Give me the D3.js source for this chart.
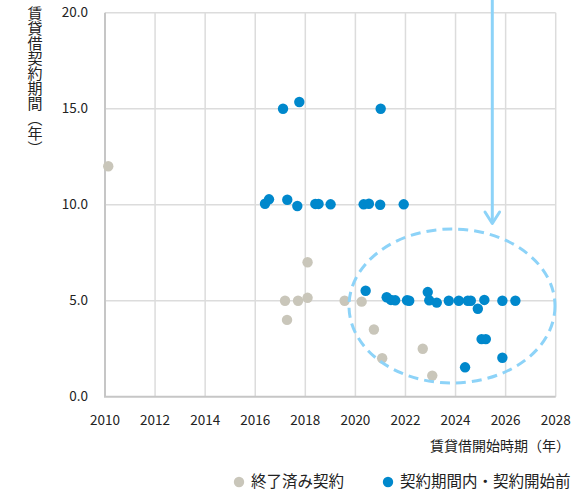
<!DOCTYPE html>
<html>
<head>
<meta charset="utf-8">
<script src="https://cdn.jsdelivr.net/npm/d3@7"></script>
<style>
  body { margin: 0; background: #fff; }
  text { font-family: "Noto Sans CJK JP", "Noto Sans", sans-serif; fill: #222; }
</style>
</head>
<body>
<svg id="chart"></svg>
<script>
// 終了済み契約 (gray)
const endedYears  = [2010.13, 2017.19, 2017.27, 2017.71, 2018.09, 2018.09, 2019.57, 2020.25, 2020.74, 2021.07, 2022.69, 2023.07];
const endedTerms  = [12.0, 5.0, 4.0, 5.0, 5.15, 7.0, 5.0, 4.95, 3.5, 2.0, 2.5, 1.1];

// 契約期間内・契約開始前 (blue)
const activeYears = [2017.11, 2017.76, 2021.01,
  2016.39, 2016.55, 2017.28, 2017.68, 2018.40, 2018.53, 2019.01, 2020.33, 2020.54, 2020.99, 2021.93,
  2020.41, 2021.25, 2021.42, 2021.59, 2022.06, 2022.15, 2022.89, 2022.95, 2023.25, 2023.73, 2024.13,
  2024.49, 2024.61, 2024.89, 2025.15, 2025.87, 2026.39,
  2025.04, 2025.21, 2025.87, 2024.38];
const activeTerms = [15.0, 15.35, 15.0,
  10.05, 10.28, 10.26, 9.93, 10.04, 10.04, 10.02, 10.02, 10.05, 10.0, 10.02,
  5.52, 5.18, 5.04, 5.02, 5.02, 5.0, 5.45, 5.02, 4.9, 5.0, 5.0,
  5.0, 5.0, 4.58, 5.04, 5.0, 5.0,
  3.0, 3.0, 2.03, 1.53];

const xTicks = [2010, 2012, 2014, 2016, 2018, 2020, 2022, 2024, 2026, 2028];
const yTicks = [0, 5, 10, 15, 20];
const legendLabels = ["終了済み契約", "契約期間内・契約開始前"];
const xTitle = "賃貸借開始時期（年）";
const yTitle = "賃貸借契約期間（年）";

const width = 583, height = 498;
const svg = d3.select("#chart").attr("width", width).attr("height", height);

const x = d3.scaleLinear().domain([2010, 2028]).range([105, 555.7]);
const y = d3.scaleLinear().domain([0, 20]).range([396.7, 12.7]);

const gray = "#c9c6ba", blue = "#0088cc", light = "#8dd3f8";

// grid
const grid = svg.append("g");
grid.selectAll(".vg").data(xTicks.slice(1)).enter().append("line")
  .attr("x1", d => x(d)).attr("x2", d => x(d))
  .attr("y1", y(20)).attr("y2", y(0))
  .attr("stroke", "#dcdcdc").attr("stroke-width", 1.5);
grid.selectAll(".hg").data(yTicks.slice(1)).enter().append("line")
  .attr("x1", x(2010)).attr("x2", x(2028))
  .attr("y1", d => y(d)).attr("y2", d => y(d))
  .attr("stroke", "#dcdcdc").attr("stroke-width", 1.5);

// axis lines
svg.append("line").attr("x1", x(2010)).attr("x2", x(2010)).attr("y1", y(20)).attr("y2", y(0))
  .attr("stroke", "#c6c6c6").attr("stroke-width", 2);
svg.append("line").attr("x1", x(2010) - 1).attr("x2", x(2028)).attr("y1", y(0)).attr("y2", y(0))
  .attr("stroke", "#c6c6c6").attr("stroke-width", 2);

// tick labels
svg.selectAll(".xl").data(xTicks).enter().append("text")
  .attr("x", d => x(d)).attr("y", 425)
  .attr("text-anchor", "middle").attr("font-size", 13.5)
  .text(d => d);
svg.selectAll(".yl").data(yTicks).enter().append("text")
  .attr("x", 88).attr("y", d => y(d)).attr("dy", "0.35em")
  .attr("text-anchor", "end").attr("font-size", 13.5)
  .text(d => d3.format(".1f")(d));

// axis titles
svg.append("text")
  .attr("x", 570).attr("y", 451)
  .attr("text-anchor", "end").attr("font-size", 14)
  .text(xTitle);
svg.append("text")
  .attr("x", 35).attr("y", 6)
  .attr("font-size", 15)
  .style("writing-mode", "vertical-rl")
  .style("text-orientation", "upright")
  .text(yTitle);

// points
const ended = endedYears.map((d, i) => [d, endedTerms[i]]);
const active = activeYears.map((d, i) => [d, activeTerms[i]]);
svg.append("g").selectAll("circle").data(ended).enter().append("circle")
  .attr("cx", d => x(d[0])).attr("cy", d => y(d[1])).attr("r", 5.2).attr("fill", gray);
svg.append("g").selectAll("circle").data(active).enter().append("circle")
  .attr("cx", d => x(d[0])).attr("cy", d => y(d[1])).attr("r", 5.2).attr("fill", blue);

// annotation ellipse + arrow
svg.append("ellipse")
  .attr("cx", 452).attr("cy", 306).attr("rx", 103).attr("ry", 77)
  .attr("fill", "none").attr("stroke", light).attr("stroke-width", 3)
  .attr("stroke-dasharray", "10,6");
svg.append("line").attr("x1", 492.3).attr("x2", 492.3).attr("y1", 0).attr("y2", 223)
  .attr("stroke", light).attr("stroke-width", 3);
svg.append("path").attr("d", "M485,212 L492.3,223.5 L499.6,212")
  .attr("fill", "none").attr("stroke", light).attr("stroke-width", 3)
  .attr("stroke-linejoin", "round").attr("stroke-linecap", "round");

// legend
const legend = svg.append("g");
const legendX = [239, 388];
legend.selectAll("circle").data(legendLabels).enter().append("circle")
  .attr("cx", (d, i) => legendX[i]).attr("cy", 482).attr("r", 5.2)
  .attr("fill", (d, i) => i === 0 ? gray : blue);
legend.selectAll("text").data(legendLabels).enter().append("text")
  .attr("x", (d, i) => legendX[i] + 12).attr("y", 482).attr("dy", "0.35em")
  .attr("font-size", 15.5)
  .text(d => d);
</script>
</body>
</html>
